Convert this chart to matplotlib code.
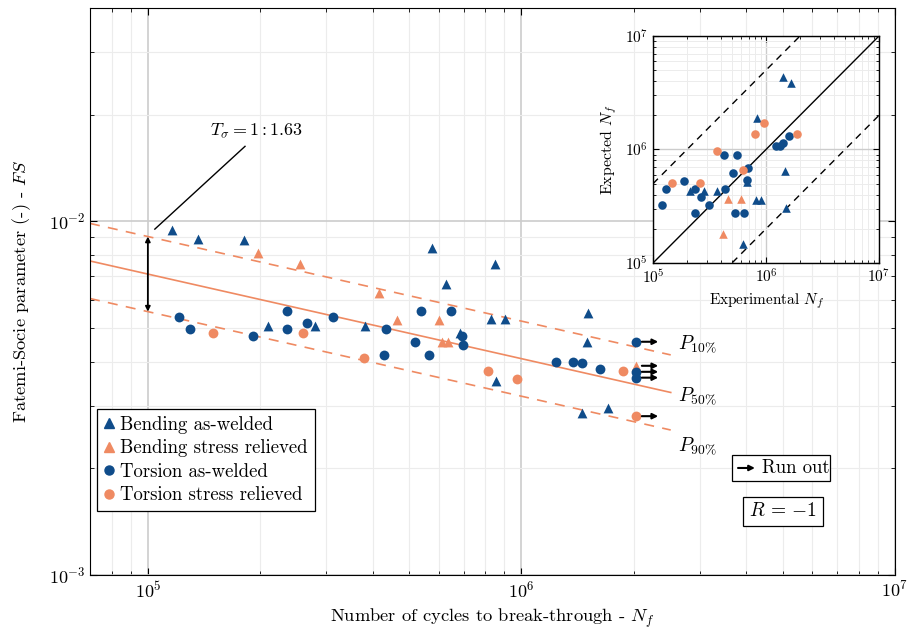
import numpy as np
import matplotlib
matplotlib.use('Agg')
import matplotlib.pyplot as plt
from matplotlib.lines import Line2D
from matplotlib.patches import Rectangle
from matplotlib.ticker import NullFormatter

plt.rcParams.update({'font.family': 'cmr10', 'mathtext.fontset': 'cm',
                     'axes.formatter.use_mathtext': True, 'font.size': 12,
                     'xtick.top': True, 'ytick.right': True,
                     'xtick.direction': 'in', 'ytick.direction': 'in'})

blue = '#0f4c8a'
orange = '#ef8a62'

#%%
""" test data: cycles to break-through and FS parameter """
bend_aw_N = [1.16e5, 1.36e5, 1.81e5, 2.10e5, 2.80e5, 3.82e5, 5.77e5, 6.29e5, 6.86e5,
             8.31e5, 8.52e5, 8.57e5, 9.06e5, 1.457e6, 1.50e6, 1.51e6, 1.71e6]
bend_aw_FS = [9.43e-3, 8.90e-3, 8.84e-3, 5.06e-3, 5.06e-3, 5.06e-3, 8.39e-3, 6.64e-3, 4.84e-3,
              5.30e-3, 7.56e-3, 3.54e-3, 5.30e-3, 2.86e-3, 4.56e-3, 5.51e-3, 2.97e-3]

bend_sr_N = [1.97e5, 2.56e5, 4.16e5, 4.65e5, 6.03e5, 6.14e5, 6.37e5, 2.02e6]
bend_sr_FS = [8.13e-3, 7.56e-3, 6.27e-3, 5.26e-3, 5.26e-3, 4.56e-3, 4.56e-3, 3.90e-3]

tors_aw_N = [1.21e5, 1.30e5, 1.91e5, 2.36e5, 2.36e5, 2.67e5, 3.13e5, 4.35e5, 4.29e5, 5.20e5,
             5.39e5, 5.67e5, 6.49e5, 6.95e5, 6.99e5, 1.234e6, 1.37e6, 1.449e6, 1.628e6,
             2.02e6, 2.02e6, 2.02e6]
tors_aw_FS = [5.37e-3, 4.96e-3, 4.74e-3, 5.58e-3, 4.96e-3, 5.16e-3, 5.37e-3, 4.96e-3, 4.19e-3, 4.56e-3,
              5.58e-3, 4.19e-3, 5.58e-3, 4.74e-3, 4.47e-3, 4.01e-3, 4.01e-3, 3.96e-3, 3.83e-3,
              4.56e-3, 3.75e-3, 3.61e-3]

tors_sr_N = [1.49e5, 2.60e5, 3.79e5, 8.16e5, 9.75e5, 1.866e6, 2.02e6]
tors_sr_FS = [4.84e-3, 4.84e-3, 4.11e-3, 3.78e-3, 3.59e-3, 3.78e-3, 2.81e-3]

# run outs (N, FS)
runout_N = [2.02e6, 2.02e6, 2.02e6, 2.02e6, 2.02e6]
runout_FS = [4.56e-3, 3.90e-3, 3.75e-3, 3.61e-3, 2.81e-3]

# fit: log10(FS) = a + b*log10(N), scatter band T_sigma
fit_a = -0.9548
fit_b = -0.239
T_sigma = 1.63
fit_Nrange = [7.0e4, 2.51e6]

# band labels
plabels = [r'$P_{10\%}$', r'$P_{50\%}$', r'$P_{90\%}$']
plabel_FS = [4.50e-3, 3.21e-3, 2.32e-3]

#%%
""" expected vs experimental life """
ex_bend_aw = [1.42e6, 1.68e6, 8.39e5, 6.84e5, 2.13e5, 2.80e5, 3.72e5, 8.11e5, 8.98e5, 1.48e6, 1.49e6, 6.22e5]
pr_bend_aw = [4.37e6, 3.82e6, 1.88e6, 5.19e5, 4.28e5, 4.28e5, 4.28e5, 3.62e5, 3.62e5, 6.49e5, 3.05e5, 1.46e5]
ex_bend_sr = [4.15e5, 4.59e5, 5.97e5]
pr_bend_sr = [1.81e5, 3.65e5, 3.65e5]
ex_tors_aw = [1.20e5, 1.31e5, 1.89e5, 2.37e5, 2.65e5, 2.35e5, 3.10e5, 4.28e5, 4.35e5, 5.15e5,
              5.58e5, 5.32e5, 6.44e5, 6.98e5, 6.84e5, 1.22e6, 1.33e6, 1.42e6, 1.61e6]
pr_tors_aw = [3.23e5, 4.47e5, 5.32e5, 4.50e5, 3.82e5, 2.78e5, 3.27e5, 8.91e5, 4.47e5, 6.26e5,
              8.91e5, 2.78e5, 2.78e5, 6.93e5, 5.43e5, 1.07e6, 1.07e6, 1.13e6, 1.31e6]
ex_tors_sr = [1.48e5, 2.58e5, 3.72e5, 6.22e5, 8.00e5, 9.60e5, 1.87e6]
pr_tors_sr = [5.05e5, 5.05e5, 9.73e5, 6.57e5, 1.36e6, 1.72e6, 1.36e6]
band_factor = 5

#%%
fig = plt.figure(figsize=(9.09, 6.29), dpi=100, facecolor='w')
ax = fig.add_axes([0.099, 0.0859, 0.8856, 0.9014])

ms = 50
ax.scatter(bend_aw_N, bend_aw_FS, marker='^', s=ms, color=blue, zorder=3, linewidths=0)
ax.scatter(bend_sr_N, bend_sr_FS, marker='^', s=ms, color=orange, zorder=3, linewidths=0)
ax.scatter(tors_aw_N, tors_aw_FS, marker='o', s=ms, color=blue, zorder=3, linewidths=0)
ax.scatter(tors_sr_N, tors_sr_FS, marker='o', s=ms, color=orange, zorder=3, linewidths=0)

for n, fs in zip(runout_N, runout_FS):
    ax.annotate('', xy=(n * 1.15, fs), xytext=(n * 1.04, fs),
                arrowprops=dict(arrowstyle='-|>', color='k', lw=1.5, mutation_scale=8,
                                shrinkA=0, shrinkB=0))

Nf = np.logspace(np.log10(fit_Nrange[0]), np.log10(fit_Nrange[1]), 50)
FS50 = 10 ** (fit_a + fit_b * np.log10(Nf))
band = np.sqrt(T_sigma)
ax.plot(Nf, FS50, color=orange, lw=1.2, zorder=2)
ax.plot(Nf, FS50 * band, color=orange, lw=1.2, ls=(0, (6, 5)), zorder=2)
ax.plot(Nf, FS50 / band, color=orange, lw=1.2, ls=(0, (6, 5)), zorder=2)

for lab, fs in zip(plabels, plabel_FS):
    ax.text(2.62e6, fs, lab, fontsize=14, va='center')

# T_sigma arrow
N0 = 1.0e5
fs0 = 10 ** (fit_a + fit_b * np.log10(N0))
ax.annotate('', xy=(N0, fs0 * band), xytext=(N0, fs0 / band),
            arrowprops=dict(arrowstyle='<|-|>', color='k', lw=1.3, mutation_scale=7,
                            shrinkA=0, shrinkB=0), zorder=4)
ax.plot([1.044e5, 1.82e5], [9.49e-3, 1.626e-2], color='k', lw=1)
ax.text(1.47e5, 1.80e-2, r'$T_\sigma = 1:1.63$', fontsize=13, va='center')

ax.set_xscale('log')
ax.set_yscale('log')
ax.set_xlim(7.0e4, 1e7)
ax.set_ylim(1e-3, 4e-2)
ax.xaxis.set_minor_formatter(NullFormatter())
ax.yaxis.set_minor_formatter(NullFormatter())
ax.grid(which='major', color='#cccccc', lw=1.2)
ax.grid(which='minor', color='#ececec', lw=0.8)
ax.set_axisbelow(True)
ax.tick_params(which='major', length=5, labelsize=13)
ax.tick_params(which='minor', length=3)
ax.set_xlabel(r'Number of cycles to break-through - $N_f$', fontsize=13.3)
ax.set_ylabel(r'Fatemi-Socie parameter (-) - $FS$', fontsize=13.3)
ax.yaxis.set_label_coords(-0.071, 0.5)

handles = [Line2D([], [], ls='', marker='^', ms=6.5, color=blue),
           Line2D([], [], ls='', marker='^', ms=6.5, color=orange),
           Line2D([], [], ls='', marker='o', ms=6.5, color=blue),
           Line2D([], [], ls='', marker='o', ms=6.5, color=orange)]
labels = ['Bending as-welded', 'Bending stress relieved', 'Torsion as-welded', 'Torsion stress relieved']
leg = ax.legend(handles, labels, loc='upper left', bbox_to_anchor=(0.0087, 0.2928), borderaxespad=0,
                fontsize=13.5, handlelength=0.6, handletextpad=0.3, labelspacing=0.3,
                borderpad=0.35, fancybox=False, framealpha=1, edgecolor='k')
leg.get_frame().set_linewidth(0.9)

# run out box
ax.add_patch(Rectangle((0.7975, 0.1658), 0.1217, 0.0459, transform=ax.transAxes,
                       fill=True, facecolor='w', edgecolor='k', lw=0.9, zorder=5))
ax.annotate('', xy=(0.826, 0.1887), xytext=(0.805, 0.1887), xycoords='axes fraction',
            arrowprops=dict(arrowstyle='-|>', color='k', lw=1.5, mutation_scale=8,
                            shrinkA=0, shrinkB=0), zorder=6)
ax.text(0.835, 0.1887, 'Run out', transform=ax.transAxes, va='center', fontsize=13.5, zorder=6)
ax.text(0.861, 0.112, r'$R$ = $-1$', transform=ax.transAxes, va='center', ha='center', fontsize=14,
        bbox=dict(boxstyle='square,pad=0.3', fc='w', ec='k', lw=0.9))

#%%
""" inset: expected vs experimental """
ins = fig.add_axes([0.7184, 0.5819, 0.2486, 0.3609], facecolor='w')
ims = 38
ins.scatter(ex_bend_aw, pr_bend_aw, marker='^', s=ims, color=blue, zorder=3, linewidths=0)
ins.scatter(ex_bend_sr, pr_bend_sr, marker='^', s=ims, color=orange, zorder=3, linewidths=0)
ins.scatter(ex_tors_aw, pr_tors_aw, marker='o', s=ims, color=blue, zorder=3, linewidths=0)
ins.scatter(ex_tors_sr, pr_tors_sr, marker='o', s=ims, color=orange, zorder=3, linewidths=0)
xx = np.array([1e5, 1e7])
ins.plot(xx, xx, color='k', lw=1)
ins.plot(xx, xx * band_factor, color='k', lw=1, ls=(0, (5, 4)))
ins.plot(xx, xx / band_factor, color='k', lw=1, ls=(0, (5, 4)))
ins.set_xscale('log')
ins.set_yscale('log')
ins.set_xlim(1e5, 1e7)
ins.set_ylim(1e5, 1e7)
ins.xaxis.set_minor_formatter(NullFormatter())
ins.yaxis.set_minor_formatter(NullFormatter())
ins.grid(which='major', color='#cccccc', lw=1)
ins.grid(which='minor', color='#ececec', lw=0.7)
ins.set_axisbelow(True)
ins.tick_params(which='major', length=4, labelsize=11)
ins.tick_params(which='minor', length=2.5)
ins.set_xlabel(r'Experimental $N_f$', fontsize=11)
ins.set_ylabel(r'Expected $N_f$', fontsize=11.5)
for s in ins.spines.values():
    s.set_linewidth(1)

plt.savefig('out.png', dpi=100)
